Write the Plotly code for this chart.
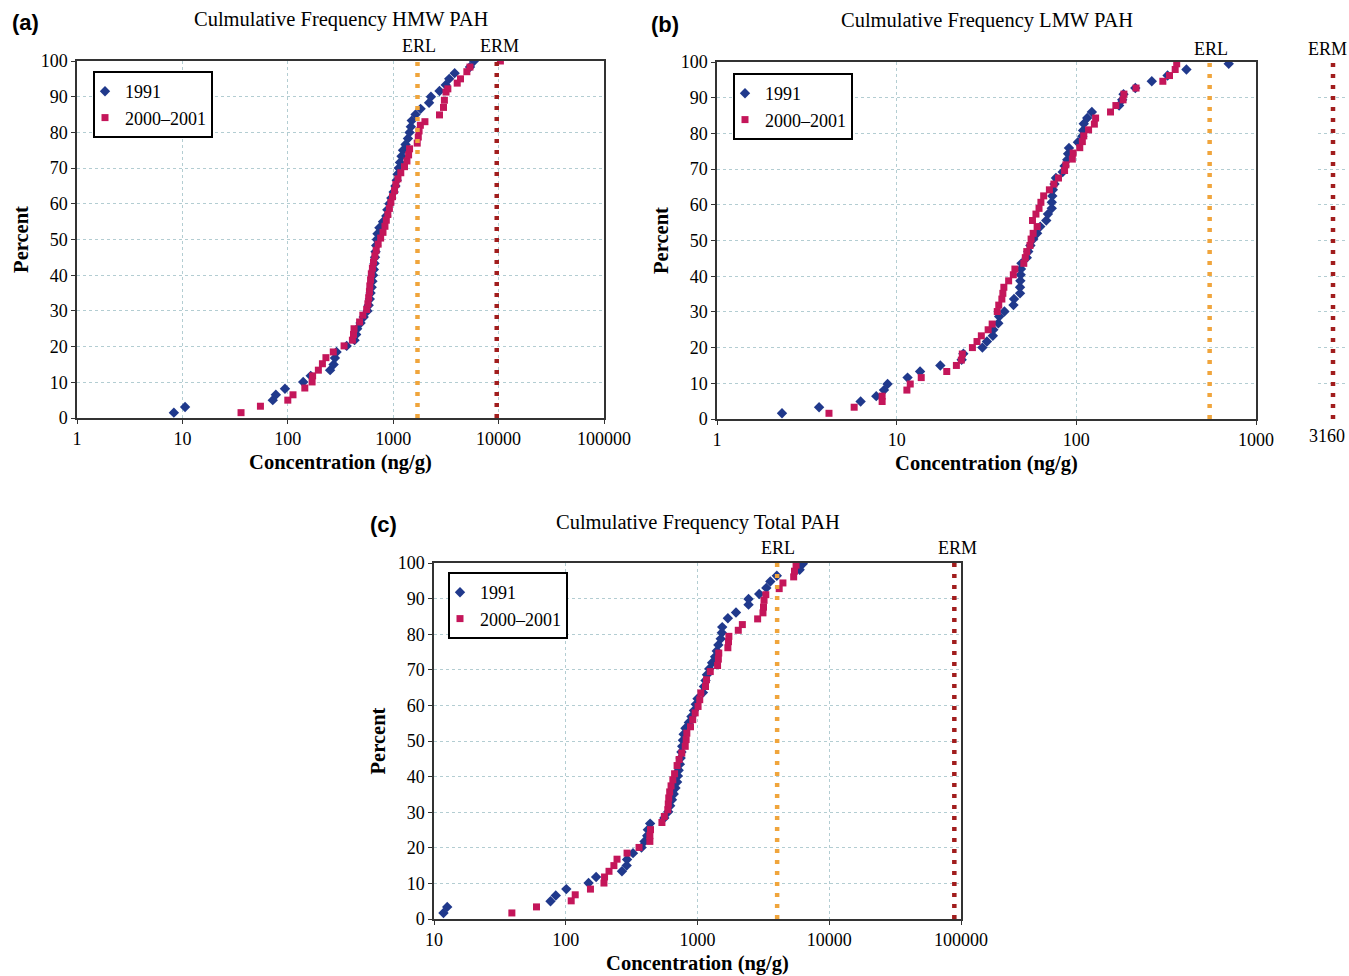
import numpy as np
import plotly.graph_objects as go

# ---------------- data ----------------
# (a) HMW PAH
HMW_1991_CONC = [8.3, 10.6, 72, 77, 94, 140, 165, 252, 272, 280, 290, 362, 430, 445, 455, 490, 525,
                 570, 585, 600, 610, 625, 635, 645, 655, 665, 672, 680, 690, 700, 710, 740, 800, 860,
                 880, 920, 960, 1010, 1050, 1080, 1100, 1130, 1160, 1200, 1240, 1310, 1380, 1430, 1470,
                 1500, 1630, 1820, 2190, 2280, 2750, 3150, 3400, 3830, 5350, 5840]
HMW_1991_PCT = [1.5, 3.1, 5.0, 6.5, 8.2, 10.1, 11.8, 13.4, 15.0, 16.8, 18.5, 20.2, 21.8, 23.4, 25.0, 26.6,
                28.3, 30.0, 31.6, 33.3, 35.0, 36.6, 38.3, 40.0, 41.6, 43.3, 45.0, 46.6, 48.3, 50.0, 51.6,
                53.3, 55.0, 56.6, 58.3, 60.0, 61.6, 63.3, 65.0, 66.6, 68.3, 70.0, 71.6, 73.3, 75.0, 76.6,
                78.3, 80.0, 81.6, 83.3, 85.0, 86.6, 88.3, 90.0, 91.6, 93.3, 95.0, 96.6, 98.3, 100.0]
HMW_2000_CONC = [36, 55, 100, 112, 145, 170, 172, 195, 213, 230, 270, 342, 410, 420, 425, 480, 515, 560,
                 575, 585, 595, 600, 610, 620, 635, 650, 670, 690, 720, 760, 800, 835, 860, 890, 920, 950,
                 985, 1030, 1060, 1110, 1180, 1280, 1350, 1400, 1430, 1690, 1730, 1760, 1810, 2000, 2750,
                 3000, 3060, 3170, 3300, 4050, 4350, 5000, 5350, 10400]
HMW_2000_PCT = [1.5, 3.3, 5.0, 6.5, 8.4, 10.1, 11.8, 13.4, 15.2, 16.9, 18.5, 20.2, 21.8, 23.4, 25.0, 26.9,
                28.8, 30.4, 32.0, 33.7, 35.4, 37.0, 38.7, 40.4, 42.0, 43.7, 45.4, 47.0, 48.7, 50.4, 52.0,
                53.7, 55.4, 57.0, 58.7, 60.4, 62.0, 63.7, 65.4, 67.0, 68.7, 70.4, 72.0, 73.7, 75.4, 77.0,
                78.7, 80.4, 82.0, 83.0, 84.9, 87.0, 89.0, 91.3, 92.2, 93.8, 95.0, 97.0, 98.3, 100.0]

# (b) LMW PAH
LMW_1991_CONC = [2.3, 3.7, 6.3, 7.7, 8.5, 8.9, 11.5, 13.5, 17.5, 23, 23.5, 30, 31.8, 34.3, 34.5, 36.8,
                 37.2, 39.8, 44.7, 45, 48.6, 48.6, 48.8, 49, 49.2, 49.5, 53, 54, 55.5, 57.6, 60.5, 63, 68,
                 69.5, 73, 73, 73.5, 74, 75.6, 77, 84, 86, 89, 90, 91, 102, 108, 109, 110, 115, 122, 173,
                 180, 183, 213, 263, 322, 410, 705]
LMW_1991_PCT = [1.6, 3.3, 4.9, 6.4, 8.1, 9.8, 11.6, 13.3, 15.0, 16.6, 18.3, 20.0, 21.7, 23.3, 25.0, 26.8,
                28.7, 30.1, 31.9, 33.6, 35.2, 36.9, 38.7, 40.4, 42.0, 43.6, 45.2, 46.9, 48.6, 50.4, 52.0,
                53.9, 55.6, 57.4, 59.0, 60.7, 62.5, 64.2, 65.8, 67.5, 69.2, 70.9, 72.6, 74.3, 75.9, 77.5,
                79.2, 80.8, 82.7, 84.3, 86.0, 87.8, 89.4, 91.0, 92.7, 94.6, 96.2, 97.9, 99.5]
LMW_2000_CONC = [4.2, 5.8, 8.3, 8.3, 11.4, 11.9, 13.7, 19, 21.5, 22.9, 23.2, 26.4, 28, 29.6, 32.3, 34,
                 36.3, 37, 38.5, 39, 39.5, 42, 44.6, 45.5, 51, 52, 53, 55.2, 56, 57, 57.5, 59.6, 60.5, 62,
                 63.5, 65.8, 70.8, 75, 79.6, 86, 87.5, 95, 96, 104.5, 108, 110, 117, 126, 128, 155, 166,
                 182, 184, 215, 303, 330, 355, 362]
LMW_2000_PCT = [1.6, 3.3, 4.9, 6.4, 8.1, 9.8, 11.6, 13.3, 15.0, 16.5, 18.2, 20.0, 21.7, 23.3, 25.0, 26.6,
                30.1, 31.9, 33.6, 35.2, 36.9, 38.7, 40.4, 42.0, 43.6, 45.2, 46.9, 48.6, 50.4, 55.6, 52.0,
                57.4, 53.9, 59.0, 60.7, 62.5, 64.2, 65.8, 67.5, 69.6, 71.2, 72.8, 74.5, 76.0, 77.7, 79.3,
                81.0, 82.6, 84.3, 86.0, 87.8, 89.4, 91.0, 92.7, 94.6, 96.2, 97.9, 99.5]

# (c) Total PAH
TOT_1991_CONC = [11.8, 12.6, 76.6, 84, 101, 149, 170, 267, 290, 292, 324, 376, 396, 415, 420, 437, 560,
                 600, 620, 640, 660, 680, 700, 710, 720, 735, 745, 755, 765, 775, 785, 810, 860, 900, 940,
                 970, 1000, 1100, 1120, 1150, 1180, 1230, 1290, 1360, 1400, 1440, 1500, 1530, 1540, 1700,
                 1960, 2440, 2440, 2940, 3330, 3570, 4000, 5960, 6300]
TOT_1991_PCT = [1.7, 3.4, 5.0, 6.6, 8.4, 10.1, 11.8, 13.4, 15.0, 16.7, 18.5, 20.1, 21.8, 23.4, 25.1, 26.8,
                28.4, 30.1, 31.8, 33.5, 35.1, 36.8, 38.5, 40.2, 41.8, 43.5, 45.2, 46.9, 48.5, 50.2, 51.9,
                53.6, 55.2, 56.9, 58.6, 60.3, 61.9, 63.6, 65.3, 67.0, 68.6, 70.3, 72.0, 73.7, 75.3, 77.0,
                78.7, 80.4, 82.0, 84.5, 86.1, 88.3, 89.9, 91.3, 93.0, 94.8, 96.4, 98.1, 99.8]
TOT_2000_CONC = [39, 60, 110, 118, 154, 195, 197, 213, 232, 245, 292, 360, 435, 435, 440, 537, 560, 595,
                 600, 605, 615, 630, 650, 670, 700, 725, 760, 807, 820, 830, 885, 920, 960, 1010, 1040,
                 1060, 1150, 1170, 1250, 1420, 1440, 1450, 1700, 1720, 1730, 2040, 2190, 2860, 3140, 3170,
                 3200, 3300, 4170, 4450, 5370, 5450, 5600]
TOT_2000_PCT = [1.7, 3.4, 5.1, 6.8, 8.4, 10.1, 11.8, 13.4, 15.0, 16.8, 18.5, 20.1, 21.8, 23.4, 25.1, 27.1,
                28.8, 30.7, 32.3, 34.0, 35.7, 37.4, 39.1, 40.8, 43.1, 44.8, 46.6, 48.5, 50.4, 52.2, 54.0,
                56.0, 57.9, 59.7, 61.6, 63.5, 65.3, 67.2, 69.5, 71.2, 73.0, 74.7, 76.2, 77.9, 79.4, 81.1,
                82.7, 84.3, 86.0, 87.6, 89.5, 91.1, 92.8, 94.4, 96.1, 97.7, 99.4]

# guideline values (ng/g)
HMW_ERL, HMW_ERM = 1700, 9600
LMW_ERL, LMW_ERM = 552, 3160
TOT_ERL, TOT_ERM = 4022, 89000

X_TICKS_A = [1, 10, 100, 1000, 10000, 100000]
X_TICKS_B = [1, 10, 100, 1000]
X_TICKS_C = [10, 100, 1000, 10000, 100000]
Y_TICKS = [0, 10, 20, 30, 40, 50, 60, 70, 80, 90, 100]

TITLES = ["Culmulative Frequency HMW PAH", "Culmulative Frequency LMW PAH", "Culmulative Frequency Total PAH"]
SERIES_NAMES = ["1991", "2000\u20132001"]

# ---------------- layout helpers ----------------
W, H = 1349, 976


def fx(p):
    return p / W


def fy(p):
    return 1 - p / H


SERIF = "Liberation Serif, Times New Roman, serif"
SANS = "Liberation Sans, Arial, sans-serif"
BLUE = "#20398c"
RED = "#c4165a"
ORANGE = "#f0a53c"
DARKRED = "#a11d1d"
GRID = "#b3cdd2"
FRAME = "#333333"

fig = go.Figure()


def add_series(c91, p91, c00, p00, xa, ya, legend):
    fig.add_trace(go.Scatter(x=c91, y=p91, mode="markers", name=SERIES_NAMES[0],
                             marker=dict(symbol="diamond", size=8, color=BLUE),
                             xaxis=xa, yaxis=ya, legend=legend))
    fig.add_trace(go.Scatter(x=c00, y=p00, mode="markers", name=SERIES_NAMES[1],
                             marker=dict(symbol="square", size=7, color=RED),
                             xaxis=xa, yaxis=ya, legend=legend))


def add_vline(val, color, xa, ya):
    fig.add_trace(go.Scatter(x=[val, val], y=[Y_TICKS[0], Y_TICKS[-1]], mode="lines",
                             line=dict(color=color, width=4.5, dash="4px,7px"),
                             showlegend=False, hoverinfo="skip", xaxis=xa, yaxis=ya))


add_series(HMW_1991_CONC, HMW_1991_PCT, HMW_2000_CONC, HMW_2000_PCT, "x", "y", "legend")
add_vline(HMW_ERL, ORANGE, "x", "y")
add_vline(HMW_ERM, DARKRED, "x", "y")

add_series(LMW_1991_CONC, LMW_1991_PCT, LMW_2000_CONC, LMW_2000_PCT, "x2", "y2", "legend2")
add_vline(LMW_ERL, ORANGE, "x2", "y2")
add_vline(LMW_ERM, DARKRED, "x4", "y2")

add_series(TOT_1991_CONC, TOT_1991_PCT, TOT_2000_CONC, TOT_2000_PCT, "x3", "y3", "legend3")
add_vline(TOT_ERL, ORANGE, "x3", "y3")
add_vline(TOT_ERM, DARKRED, "x3", "y3")


def xaxis_style(ticks, dom, anchor):
    lo, hi = np.log10(ticks[0]), np.log10(ticks[-1])
    return dict(type="log", range=[lo, hi], domain=dom, anchor=anchor, automargin=False,
                tickmode="array", tickvals=ticks, ticktext=[str(t) for t in ticks],
                showgrid=True, gridcolor=GRID, griddash="dot", gridwidth=1,
                showline=True, linecolor=FRAME, linewidth=1.5, mirror=True,
                ticks="outside", ticklen=4, tickcolor=FRAME,
                tickfont=dict(family=SERIF, size=18, color="black"),
                ticklabeloverflow="allow",
                title=dict(text="<b>Concentration (ng/g)</b>",
                           font=dict(family=SERIF, size=20.5, color="black"), standoff=6),
                zeroline=False)


def yaxis_style(dom, anchor):
    return dict(range=[Y_TICKS[0], Y_TICKS[-1]], domain=dom, anchor=anchor, automargin=False,
                tickmode="array", tickvals=Y_TICKS,
                showgrid=True, gridcolor=GRID, griddash="dot", gridwidth=1,
                showline=True, linecolor=FRAME, linewidth=1.5, mirror=True,
                ticks="outside", ticklen=4, tickcolor=FRAME,
                tickfont=dict(family=SERIF, size=18, color="black"),
                title=dict(text="<b>Percent</b>",
                           font=dict(family=SERIF, size=20.5, color="black"), standoff=6),
                zeroline=False)


def legend_style(x, y):
    return dict(x=fx(x), y=fy(y), xanchor="left", yanchor="top", xref="paper", yref="paper",
                bgcolor="white", bordercolor="black", borderwidth=2,
                font=dict(family=SERIF, size=18, color="black"),
                tracegroupgap=0, itemwidth=30, indentation=-10)


lmw_erm_log = np.log10(LMW_ERM)

fig.update_layout(
    width=W, height=H, margin=dict(l=0, r=0, t=0, b=0, autoexpand=False),
    plot_bgcolor="white", paper_bgcolor="white",
    xaxis=xaxis_style(X_TICKS_A, [fx(77), fx(604)], "y"),
    yaxis=yaxis_style([fy(418), fy(61)], "x"),
    xaxis2=xaxis_style(X_TICKS_B, [fx(717), fx(1256)], "y2"),
    yaxis2=yaxis_style([fy(419), fy(62)], "x2"),
    xaxis3=xaxis_style(X_TICKS_C, [fx(434), fx(961)], "y3"),
    yaxis3=yaxis_style([fy(919), fy(563)], "x3"),
    xaxis4=dict(type="log", domain=[fx(1318), fx(1348)], anchor="y2", automargin=False,
                range=[lmw_erm_log - 0.15, lmw_erm_log + 0.15],
                tickmode="array", tickvals=[LMW_ERM], ticktext=[str(LMW_ERM)],
                ticklabeloverflow="allow", ticklabelshift=-6, ticklabelstandoff=4,
                showgrid=False, showline=False, zeroline=False, ticks="",
                tickfont=dict(family=SERIF, size=18, color="black")),
    legend=legend_style(93, 71),
    legend2=legend_style(733, 73),
    legend3=legend_style(448, 572),
)

annos = []
# panel letters and titles
for txt, x, y in [("(a)", 25, 22), ("(b)", 665, 24), ("(c)", 383, 524)]:
    annos.append(dict(text="<b>%s</b>" % txt, x=fx(x), y=fy(y), xref="paper", yref="paper",
                      xanchor="center", yanchor="middle",
                      showarrow=False, font=dict(family=SANS, size=22, color="black")))
for txt, x, y in zip(TITLES, [341, 987, 698], [20, 21, 522]):
    annos.append(dict(text=txt, x=fx(x), y=fy(y), xref="paper", yref="paper",
                      xanchor="center", yanchor="middle",
                      showarrow=False, font=dict(family=SERIF, size=20.5, color="black")))
# ERL / ERM labels
for txt, val, xref, y, xs in [("ERL", HMW_ERL, "x", 46, 2), ("ERM", HMW_ERM, "x", 46, 3),
                              ("ERL", LMW_ERL, "x2", 49, 1), ("ERM", LMW_ERM, "x4", 49, -6),
                              ("ERL", TOT_ERL, "x3", 548, 1), ("ERM", TOT_ERM, "x3", 548, 3)]:
    annos.append(dict(text=txt, x=np.log10(val), y=fy(y), xref=xref, yref="paper",
                      xanchor="center", yanchor="middle", xshift=xs,
                      showarrow=False, font=dict(family=SERIF, size=18, color="black")))
fig.update_layout(annotations=annos)

fig.write_html("out.html", config={"displayModeBar": False},
               post_script="document.body.style.margin='0';document.body.style.overflow='hidden';")
